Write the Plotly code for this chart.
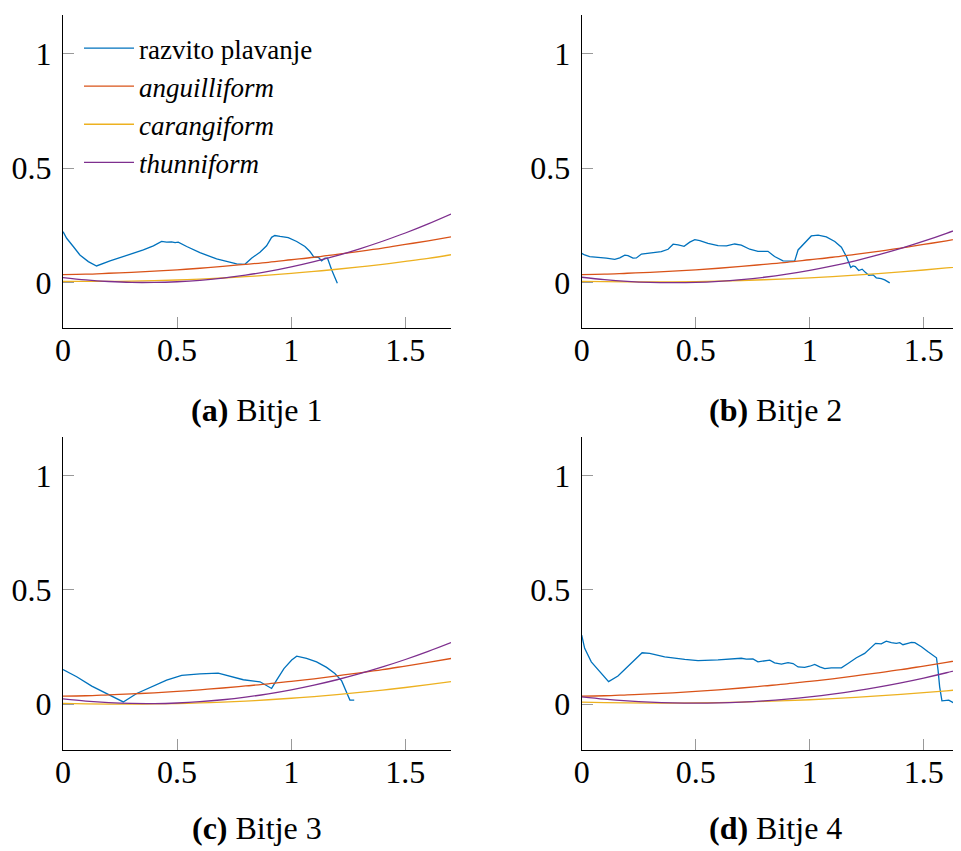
import plotly.graph_objects as go

# ---------------- data ----------------
series_names = ["razvito plavanje", "<i>anguilliform</i>", "<i>carangiform</i>", "<i>thunniform</i>"]
captions = ["<b>(a)</b> Bitje 1", "<b>(b)</b> Bitje 2", "<b>(c)</b> Bitje 3", "<b>(d)</b> Bitje 4"]
x_ticks = [0, 0.5, 1, 1.5]
x_tick_labels = ["0", "0.5", "1", "1.5"]
y_ticks = [0, 0.5, 1]
y_tick_labels = ["0", "0.5", "1"]

# model curves sampled positions
model_x = [0, 0.1, 0.2, 0.3, 0.4, 0.5, 0.6, 0.7, 0.8, 0.9, 1.0, 1.1, 1.2, 1.3, 1.4, 1.5, 1.6, 1.7]

anguilliform = [0.035, 0.037, 0.041, 0.045, 0.050, 0.056, 0.063, 0.071, 0.080, 0.089,
                0.100, 0.111, 0.124, 0.137, 0.151, 0.167, 0.183, 0.200]

# panel (a) Bitje 1
a_x = [0, 0.016, 0.045, 0.074, 0.111, 0.147, 0.206, 0.279, 0.352, 0.396, 0.432, 0.454, 0.476,
       0.491, 0.505, 0.542, 0.600, 0.673, 0.731, 0.761, 0.797, 0.826, 0.863, 0.892, 0.914,
       0.928, 0.951, 0.987, 1.024, 1.060, 1.082, 1.100, 1.119, 1.133, 1.148, 1.159, 1.177, 1.202]
a_y = [0.223, 0.194, 0.158, 0.121, 0.092, 0.073, 0.095, 0.118, 0.143, 0.161, 0.180, 0.177, 0.178,
       0.175, 0.177, 0.158, 0.131, 0.104, 0.089, 0.082, 0.080, 0.107, 0.133, 0.161, 0.198,
       0.206, 0.202, 0.197, 0.180, 0.158, 0.136, 0.111, 0.111, 0.095, 0.107, 0.107, 0.056, -0.003]
a_carangi = [0.006, 0.0053, 0.0055, 0.0066, 0.0086, 0.0116, 0.0155, 0.0204, 0.0262, 0.0329,
             0.0405, 0.0491, 0.0586, 0.069, 0.0803, 0.0926, 0.1058, 0.122]
a_thunni = [0.022, 0.012, 0.005, 0.001, 0.001, 0.004, 0.010, 0.020, 0.033, 0.049,
            0.069, 0.092, 0.118, 0.148, 0.181, 0.217, 0.257, 0.300]

# panel (b) Bitje 2
b_x = [0, 0.013, 0.035, 0.072, 0.108, 0.145, 0.167, 0.189, 0.203, 0.225, 0.240, 0.262, 0.306,
       0.349, 0.379, 0.401, 0.423, 0.449, 0.474, 0.496, 0.518, 0.554, 0.598, 0.635, 0.671,
       0.700, 0.737, 0.773, 0.817, 0.846, 0.883, 0.934, 0.949, 0.978, 1.007, 1.037, 1.073,
       1.110, 1.139, 1.161, 1.171, 1.180, 1.190, 1.200, 1.215, 1.230, 1.244, 1.259, 1.278,
       1.292, 1.314, 1.329, 1.351]
b_y = [0.128, 0.121, 0.114, 0.112, 0.107, 0.102, 0.108, 0.120, 0.118, 0.107, 0.108, 0.125, 0.129,
       0.136, 0.146, 0.168, 0.165, 0.159, 0.177, 0.188, 0.184, 0.172, 0.162, 0.161, 0.169,
       0.164, 0.146, 0.137, 0.137, 0.114, 0.095, 0.094, 0.143, 0.172, 0.204, 0.208, 0.200,
       0.180, 0.155, 0.114, 0.092, 0.066, 0.073, 0.070, 0.053, 0.059, 0.045, 0.032, 0.034,
       0.021, 0.018, 0.012, -0.001]
b_carangi = [0.006, 0.0044, 0.0034, 0.0032, 0.0036, 0.0048, 0.0067, 0.0093, 0.0126, 0.0165,
             0.0212, 0.0266, 0.0327, 0.0396, 0.0471, 0.0553, 0.0642, 0.0738]
b_thunni = [0.0235, 0.013, 0.0055, 0.001, 0.0, 0.001, 0.0055, 0.013, 0.0235, 0.037,
            0.0535, 0.073, 0.0955, 0.121, 0.1495, 0.181, 0.2155, 0.253]

# panel (c) Bitje 3
c_x = [0, 0.060, 0.126, 0.191, 0.264, 0.323, 0.388, 0.454, 0.520, 0.600, 0.680, 0.739, 0.790,
       0.863, 0.892, 0.914, 0.936, 0.968, 1.002, 1.024, 1.067, 1.111, 1.155, 1.191, 1.221,
       1.243, 1.257, 1.276]
c_y = [0.152, 0.120, 0.079, 0.047, 0.010, 0.047, 0.076, 0.105, 0.126, 0.133, 0.136, 0.120, 0.107,
       0.098, 0.083, 0.069, 0.105, 0.156, 0.193, 0.210, 0.200, 0.185, 0.161, 0.134, 0.102,
       0.054, 0.018, 0.018]
c_carangi = [0.004, 0.0019, 0.0007, 0.0005, 0.0013, 0.003, 0.0057, 0.0093, 0.014, 0.0195,
             0.0261, 0.0336, 0.042, 0.0514, 0.0618, 0.0731, 0.0854, 0.0987]
c_thunni = [0.023, 0.0135, 0.007, 0.0035, 0.003, 0.0055, 0.011, 0.0195, 0.031, 0.0455,
            0.063, 0.0835, 0.107, 0.1335, 0.163, 0.1955, 0.231, 0.2695]

# panel (d) Bitje 4
d_x = [0, 0.013, 0.042, 0.079, 0.118, 0.159, 0.211, 0.265, 0.298, 0.364, 0.452, 0.510, 0.598,
       0.700, 0.722, 0.751, 0.773, 0.803, 0.825, 0.846, 0.876, 0.905, 0.927, 0.949, 0.978,
       1.000, 1.022, 1.044, 1.066, 1.095, 1.139, 1.168, 1.205, 1.241, 1.270, 1.289, 1.314,
       1.336, 1.358, 1.380, 1.395, 1.409, 1.431, 1.446, 1.461, 1.490, 1.519, 1.556, 1.563,
       1.570, 1.580, 1.592, 1.610, 1.629, 1.651, 1.665]
d_y = [0.302, 0.244, 0.185, 0.142, 0.099, 0.123, 0.171, 0.225, 0.222, 0.207, 0.196, 0.191, 0.194,
       0.201, 0.197, 0.198, 0.185, 0.188, 0.193, 0.181, 0.175, 0.182, 0.178, 0.163, 0.161,
       0.166, 0.174, 0.163, 0.156, 0.159, 0.159, 0.178, 0.203, 0.222, 0.247, 0.266, 0.264,
       0.276, 0.269, 0.266, 0.269, 0.260, 0.266, 0.270, 0.269, 0.251, 0.229, 0.203, 0.149,
       0.076, 0.015, 0.015, 0.018, 0.007, 0.003, 0.004]
d_carangi = [0.009, 0.007, 0.0058, 0.0051, 0.0052, 0.0059, 0.0073, 0.0094, 0.0121, 0.0156,
             0.0197, 0.0245, 0.030, 0.0361, 0.0429, 0.0504, 0.0585, 0.0674]
d_thunni = [0.032, 0.0221, 0.0144, 0.0089, 0.0056, 0.0045, 0.0056, 0.0089, 0.0144, 0.0221,
            0.032, 0.0441, 0.0584, 0.0749, 0.0936, 0.1145, 0.1376, 0.1629]

x_ranges = [[0, 1.7], [0, 1.6636], [0, 1.7], [0, 1.6636]]
y_range = [-0.2, 1.17]

# ---------------- styling ----------------
colors = ["#0072BD", "#D95319", "#EDB120", "#7E2F8E"]
FONT = "Liberation Serif"
OFF = 8  # default page body margin
W, H = 961 - OFF, 851 - OFF

def px_x(p):
    return (p - OFF) / W

def px_y(p):
    return 1 - (p - OFF) / H

x_domains = [[px_x(63), px_x(451)], [px_x(581.7), 1.0], [px_x(63), px_x(451)], [px_x(581.7), 1.0]]
y_domains = [[px_y(328.4), px_y(15)], [px_y(328.4), px_y(15)],
             [px_y(750), px_y(436.5)], [px_y(750), px_y(436.5)]]

panels = [
    (a_x, a_y, a_carangi, a_thunni),
    (b_x, b_y, b_carangi, b_thunni),
    (c_x, c_y, c_carangi, c_thunni),
    (d_x, d_y, d_carangi, d_thunni),
]

fig = go.Figure()
for i, (bx, by, car, thu) in enumerate(panels):
    xa = "x" if i == 0 else f"x{i+1}"
    ya = "y" if i == 0 else f"y{i+1}"
    show = (i == 0)
    fig.add_trace(go.Scatter(x=bx, y=by, mode="lines", name=series_names[0],
                             line=dict(color=colors[0], width=1.3), xaxis=xa, yaxis=ya,
                             showlegend=show, legendrank=1))
    fig.add_trace(go.Scatter(x=model_x, y=anguilliform, mode="lines", name=series_names[1],
                             line=dict(color=colors[1], width=1.3, shape="spline"), xaxis=xa, yaxis=ya,
                             showlegend=show, legendrank=2))
    fig.add_trace(go.Scatter(x=model_x, y=car, mode="lines", name=series_names[2],
                             line=dict(color=colors[2], width=1.3, shape="spline"), xaxis=xa, yaxis=ya,
                             showlegend=show, legendrank=3))
    fig.add_trace(go.Scatter(x=model_x, y=thu, mode="lines", name=series_names[3],
                             line=dict(color=colors[3], width=1.3, shape="spline"), xaxis=xa, yaxis=ya,
                             showlegend=show, legendrank=4))

layout = dict(
    width=W, height=H,
    margin=dict(l=0, r=0, t=0, b=0, autoexpand=False),
    paper_bgcolor="white", plot_bgcolor="white",
    font=dict(family=FONT, size=32, color="black"),
    showlegend=True,
    legend=dict(x=px_x(79), y=px_y(24), xanchor="left", yanchor="top",
                bgcolor="rgba(0,0,0,0)", borderwidth=0,
                font=dict(family=FONT, size=27, color="black"),
                itemwidth=50, tracegroupgap=0),
)

for i in range(4):
    xk = "xaxis" if i == 0 else f"xaxis{i+1}"
    yk = "yaxis" if i == 0 else f"yaxis{i+1}"
    xa_anchor = "y" if i == 0 else f"y{i+1}"
    ya_anchor = "x" if i == 0 else f"x{i+1}"
    layout[xk] = dict(domain=x_domains[i], range=x_ranges[i], anchor=xa_anchor,
                      showgrid=False, zeroline=False, showline=True, linecolor="black", linewidth=1.2,
                      ticks="inside", ticklen=11, tickwidth=1, tickcolor="#999999",
                      tickmode="array", tickvals=x_ticks, ticktext=x_tick_labels,
                      ticklabelstandoff=-7,
                      tickfont=dict(family=FONT, size=32, color="black"))
    layout[yk] = dict(domain=y_domains[i], range=y_range, anchor=ya_anchor,
                      showgrid=False, zeroline=False, showline=True, linecolor="black", linewidth=1.2,
                      ticks="inside", ticklen=11, tickwidth=1, tickcolor="#999999",
                      tickmode="array", tickvals=y_ticks, ticktext=y_tick_labels,
                      ticklabelstandoff=4,
                      tickfont=dict(family=FONT, size=32, color="black"))

fig.update_layout(**layout)

caption_pos = [(257, 410), (775, 410), (257, 828), (775, 828)]
for (cx, cy), txt in zip(caption_pos, captions):
    fig.add_annotation(x=px_x(cx), y=px_y(cy), xref="paper", yref="paper",
                       text=txt, showarrow=False, xanchor="center", yanchor="middle",
                       font=dict(family=FONT, size=32, color="black"))

fig.write_html("out.html")
